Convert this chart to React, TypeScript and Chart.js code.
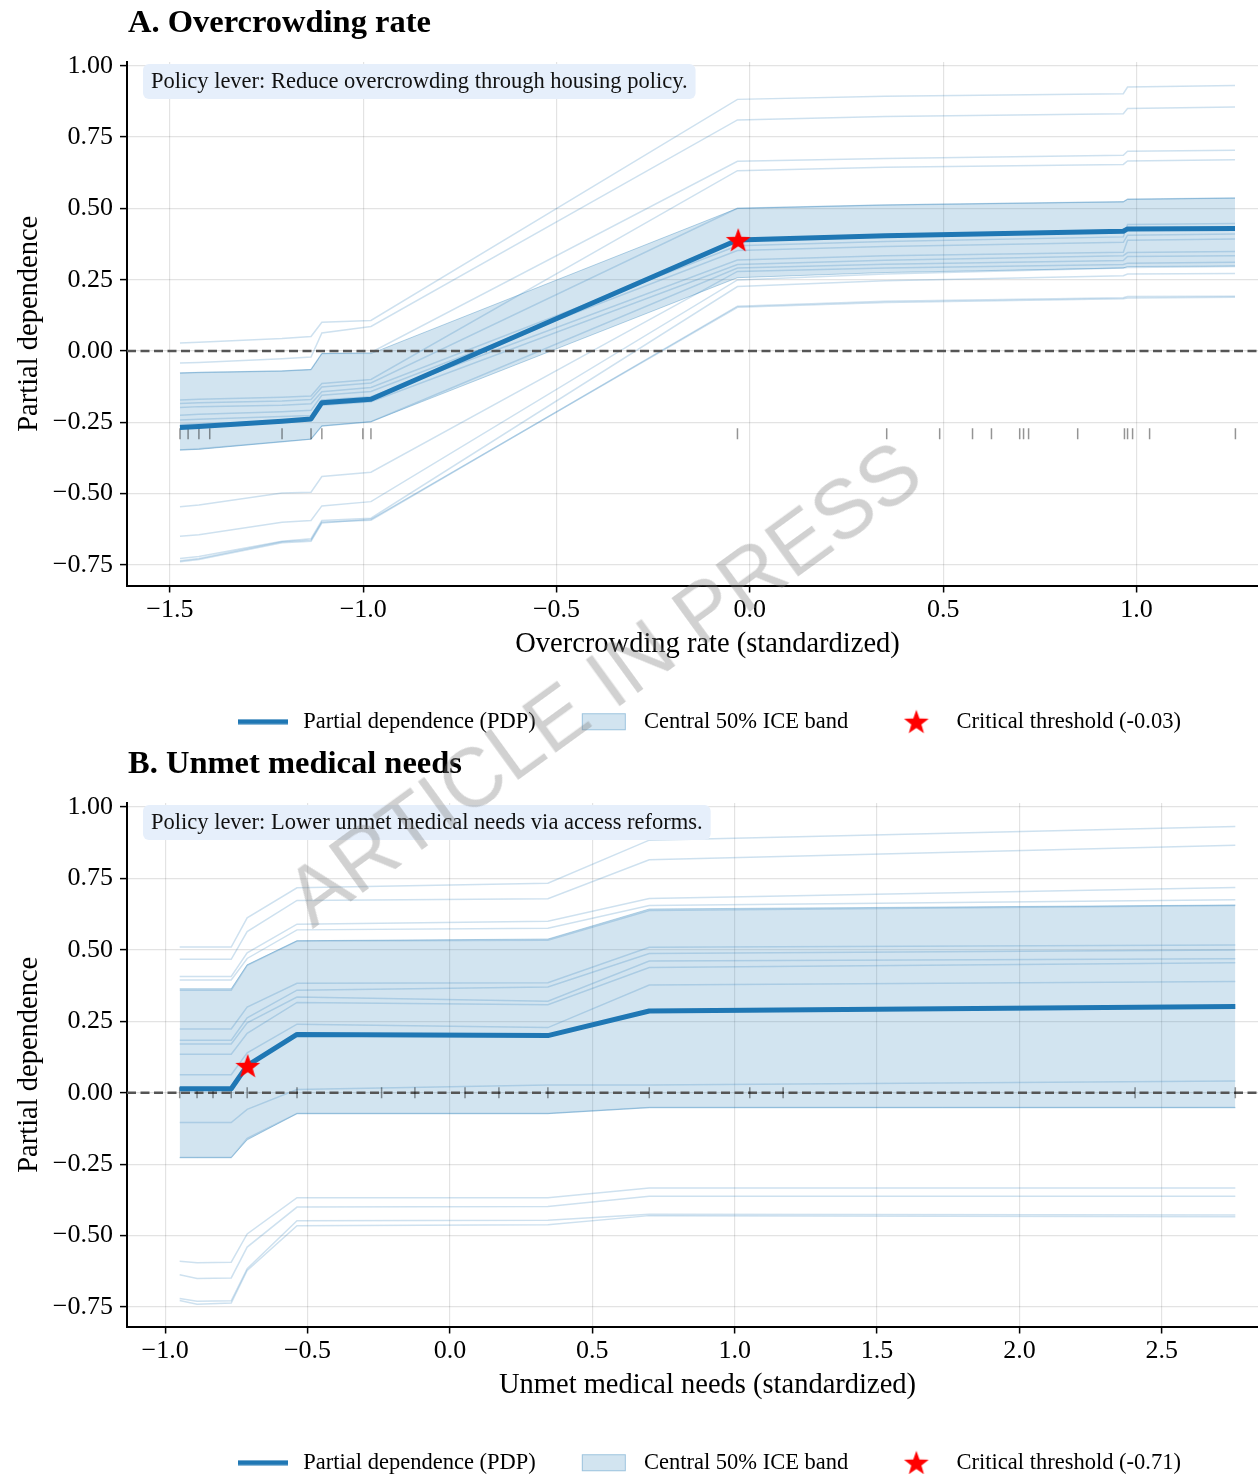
import React, { useEffect, useRef } from "react";
import { Chart, registerables } from "chart.js";
Chart.register(...registerables);

const FONT = "'Liberation Serif', 'Times New Roman', Times, serif";
const BLUE = "#1f77b4";
const ICE_COLOR = "rgba(31,119,180,0.22)";
const BAND_FILL = "rgba(31,119,180,0.2)";
const BAND_EDGE = "rgba(31,119,180,0.3)";

const Y_TICKS = [-0.75, -0.5, -0.25, 0, 0.25, 0.5, 0.75, 1.0];
const Y_LABEL = "Partial dependence";
const LEGEND_PDP = "Partial dependence (PDP)";
const LEGEND_BAND = "Central 50% ICE band";

// ---------------- Panel A: Overcrowding rate ----------------
const A_TITLE = "A. Overcrowding rate";
const A_NOTE = "Policy lever: Reduce overcrowding through housing policy.";
const A_XLABEL = "Overcrowding rate (standardized)";
const A_XLIM = [-1.611, 1.392];
const A_YLIM = [-0.822, 1.013];
const A_XTICKS = [-1.5, -1.0, -0.5, 0.0, 0.5, 1.0];
const A_GRID = [-1.474, -1.425, -1.21, -1.135, -1.107, -0.98, -0.032, 0.35, 0.966, 0.977, 1.255];
const A_PDP = [-0.268, -0.265, -0.246, -0.238, -0.181, -0.169, 0.389, 0.404, 0.42, 0.428, 0.429];
const A_BAND_HI = [-0.077, -0.075, -0.07, -0.065, -0.009, -0.009, 0.5, 0.512, 0.523, 0.532, 0.536];
const A_BAND_LO = [-0.347, -0.345, -0.318, -0.309, -0.263, -0.248, 0.257, 0.275, 0.291, 0.296, 0.298];
const A_ICE = [
  [0.028, 0.031, 0.044, 0.051, 0.101, 0.107, 0.882, 0.893, 0.902, 0.925, 0.931],
  [-0.042, -0.04, -0.027, -0.021, 0.063, 0.086, 0.81, 0.822, 0.832, 0.85, 0.855],
  [-0.077, -0.075, -0.07, -0.065, -0.009, -0.005, 0.665, 0.675, 0.686, 0.7, 0.704],
  [-0.172, -0.169, -0.162, -0.158, -0.114, -0.1, 0.632, 0.644, 0.654, 0.666, 0.67],
  [-0.184, -0.181, -0.175, -0.17, -0.126, -0.112, 0.5, 0.512, 0.523, 0.532, 0.536],
  [-0.198, -0.195, -0.19, -0.185, -0.143, -0.128, 0.369, 0.384, 0.4, 0.443, 0.447],
  [-0.225, -0.222, -0.213, -0.208, -0.155, -0.142, 0.352, 0.366, 0.381, 0.406, 0.41],
  [-0.242, -0.239, -0.23, -0.226, -0.172, -0.16, 0.319, 0.334, 0.346, 0.388, 0.393],
  [-0.258, -0.255, -0.247, -0.242, -0.19, -0.178, 0.303, 0.318, 0.334, 0.345, 0.349],
  [-0.347, -0.343, -0.318, -0.309, -0.263, -0.248, 0.291, 0.304, 0.317, 0.331, 0.334],
  [-0.546, -0.54, -0.498, -0.495, -0.44, -0.425, 0.279, 0.291, 0.303, 0.308, 0.311],
  [-0.649, -0.644, -0.6, -0.594, -0.543, -0.528, 0.249, 0.27, 0.291, 0.293, 0.296],
  [-0.727, -0.72, -0.667, -0.658, -0.594, -0.586, 0.226, 0.246, 0.264, 0.27, 0.272],
  [-0.739, -0.731, -0.672, -0.667, -0.603, -0.59, 0.153, 0.17, 0.183, 0.186, 0.188],
  [-0.735, -0.727, -0.669, -0.663, -0.599, -0.593, 0.157, 0.174, 0.187, 0.191, 0.192],
];
const A_RUG = [-1.474, -1.453, -1.425, -1.397, -1.21, -1.135, -1.107, -1.001, -0.98, -0.032, 0.354, 0.491, 0.576, 0.625, 0.698, 0.708, 0.721, 0.848, 0.969, 0.977, 0.99, 1.034, 1.256];
const A_RUG_Y = -0.29;
const A_THRESHOLD = -0.03;
const A_THRESHOLD_PD = 0.389;
const A_LEGEND_STAR = "Critical threshold (-0.03)";

// ---------------- Panel B: Unmet medical needs ----------------
const B_TITLE = "B. Unmet medical needs";
const B_NOTE = "Policy lever: Lower unmet medical needs via access reforms.";
const B_XLABEL = "Unmet medical needs (standardized)";
const B_XLIM = [-1.134, 2.943];
const B_YLIM = [-0.818, 1.014];
const B_XTICKS = [-1.0, -0.5, 0.0, 0.5, 1.0, 1.5, 2.0, 2.5];
const B_GRID = [-0.949, -0.888, -0.768, -0.712, -0.537, 0.344, 0.7, 2.758];
const B_PDP = [0.014, 0.014, 0.014, 0.095, 0.204, 0.2, 0.286, 0.302];
const B_BAND_HI = [0.364, 0.364, 0.364, 0.448, 0.532, 0.538, 0.643, 0.657];
const B_BAND_LO = [-0.227, -0.227, -0.227, -0.165, -0.073, -0.073, -0.052, -0.052];
const B_ICE = [
  [0.51, 0.51, 0.51, 0.612, 0.717, 0.733, 0.884, 0.932],
  [0.467, 0.467, 0.467, 0.564, 0.673, 0.679, 0.815, 0.866],
  [0.407, 0.407, 0.407, 0.49, 0.59, 0.6, 0.68, 0.718],
  [0.395, 0.395, 0.395, 0.47, 0.57, 0.576, 0.655, 0.675],
  [0.359, 0.359, 0.359, 0.446, 0.531, 0.534, 0.638, 0.655],
  [0.223, 0.223, 0.223, 0.3, 0.383, 0.385, 0.509, 0.517],
  [0.184, 0.184, 0.184, 0.262, 0.359, 0.37, 0.487, 0.5],
  [0.171, 0.171, 0.171, 0.245, 0.335, 0.32, 0.461, 0.469],
  [0.135, 0.135, 0.135, 0.208, 0.316, 0.308, 0.438, 0.455],
  [0.063, 0.063, 0.063, 0.14, 0.24, 0.228, 0.377, 0.389],
  [-0.104, -0.104, -0.104, -0.058, 0.011, 0.027, 0.027, 0.041],
  [-0.227, -0.227, -0.227, -0.16, -0.073, -0.073, -0.052, -0.052],
  [-0.59, -0.595, -0.593, -0.494, -0.367, -0.367, -0.333, -0.333],
  [-0.637, -0.65, -0.648, -0.54, -0.4, -0.398, -0.362, -0.362],
  [-0.72, -0.73, -0.728, -0.616, -0.448, -0.446, -0.425, -0.428],
  [-0.727, -0.74, -0.736, -0.622, -0.465, -0.462, -0.43, -0.434],
];
const B_RUG = [-0.949, -0.888, -0.832, -0.768, -0.712, -0.537, -0.24, -0.123, 0.053, 0.172, 0.344, 0.7, 1.053, 1.17, 2.406, 2.758];
const B_RUG_Y = 0.0;
const B_THRESHOLD = -0.71;
const B_THRESHOLD_PD = 0.094;
const B_LEGEND_STAR = "Critical threshold (-0.71)";

// ---------------- helpers ----------------
const fmt = (v: number, d: number) => (v < -1e-9 ? "\u2212" : "") + Math.abs(v).toFixed(d);
const zip = (xs: number[], ys: number[]) => xs.map((x, i) => ({ x, y: ys[i] }));

function makeStar(size: number, outer: number, inner: number) {
  const c = document.createElement("canvas");
  c.width = size;
  c.height = size;
  const g = c.getContext("2d")!;
  const cx = size / 2, cy = size / 2 + 1;
  g.beginPath();
  for (let i = 0; i < 10; i++) {
    const r = i % 2 === 0 ? outer : inner;
    const a = -Math.PI / 2 + (i * Math.PI) / 5;
    const px = cx + r * Math.cos(a), py = cy + r * Math.sin(a);
    if (i === 0) g.moveTo(px, py); else g.lineTo(px, py);
  }
  g.closePath();
  g.fillStyle = "#ff0000";
  g.fill();
  return c;
}
function makeLineSwatch() {
  const c = document.createElement("canvas");
  c.width = 50; c.height = 6;
  const g = c.getContext("2d")!;
  g.fillStyle = BLUE;
  g.fillRect(0, 0.5, 50, 5);
  return c;
}
function makeBandSwatch() {
  const c = document.createElement("canvas");
  c.width = 46; c.height = 19;
  const g = c.getContext("2d")!;
  g.fillStyle = BAND_FILL;
  g.fillRect(1, 1, 44, 17);
  g.strokeStyle = BAND_EDGE;
  g.lineWidth = 1;
  g.strokeRect(1.5, 1.5, 43, 16);
  return c;
}

type PanelCfg = {
  title: string; note: string; xlabel: string;
  xlim: number[]; ylim: number[]; xticks: number[];
  grid: number[]; pdp: number[]; hi: number[]; lo: number[]; ice: number[][];
  rug: number[]; rugY: number; thr: number; thrPd: number; starLabel: string;
};

function annotPlugin(title: string, note: string) {
  return {
    id: "annot",
    afterDatasetsDraw(chart: any) {
      const { ctx, chartArea } = chart;
      ctx.save();
      ctx.fillStyle = "#000";
      ctx.font = `bold 32.5px ${FONT}`;
      ctx.textBaseline = "alphabetic";
      ctx.textAlign = "left";
      ctx.fillText(title, chartArea.left + 1, 32);
      ctx.font = `22.5px ${FONT}`;
      const w = ctx.measureText(note).width;
      const bx = chartArea.left + 16, by = chartArea.top + 2, bw = w + 16, bh = 35;
      ctx.beginPath();
      if (ctx.roundRect) ctx.roundRect(bx, by, bw, bh, 6); else ctx.rect(bx, by, bw, bh);
      ctx.fillStyle = "#e6effb";
      ctx.fill();
      ctx.fillStyle = "#111";
      ctx.textBaseline = "middle";
      ctx.fillText(note, bx + 8, by + bh / 2 + 1);
      ctx.restore();
    },
  };
}

function makeConfig(p: PanelCfg): any {
  const star = makeStar(28, 13, 5.3);
  const legendStar = makeStar(28, 13, 5.3);
  const lineSw = makeLineSwatch();
  const bandSw = makeBandSwatch();
  const datasets: any[] = [
    {
      label: "threshold", data: [{ x: p.thr, y: p.thrPd }], showLine: false,
      pointStyle: star, pointRadius: 12, pointHoverRadius: 12,
    },
    {
      label: "pdp", data: zip(p.grid, p.pdp), borderColor: BLUE, borderWidth: 5,
      pointRadius: 0, tension: 0, borderJoinStyle: "round",
    },
    {
      label: "rug", data: p.rug.map((x) => ({ x, y: p.rugY })), showLine: false,
      pointStyle: "line", pointRotation: 90, pointRadius: 5.5,
      pointBorderColor: "rgba(0,0,0,0.42)", pointBorderWidth: 1.5, pointBackgroundColor: "rgba(0,0,0,0)",
    },
    {
      label: "zero", data: [{ x: p.xlim[0], y: 0 }, { x: p.xlim[1], y: 0 }],
      borderColor: "#555", borderWidth: 2.4, borderDash: [9, 4.5], pointRadius: 0,
    },
    {
      label: "bandHi", data: zip(p.grid, p.hi), borderColor: BAND_EDGE, borderWidth: 1,
      backgroundColor: BAND_FILL, fill: "+1", pointRadius: 0,
    },
    {
      label: "bandLo", data: zip(p.grid, p.lo), borderColor: BAND_EDGE, borderWidth: 1,
      fill: false, pointRadius: 0,
    },
    ...p.ice.map((row, i) => ({
      label: "ice" + i, data: zip(p.grid, row), borderColor: ICE_COLOR, borderWidth: 1.5,
      pointRadius: 0, fill: false,
    })),
  ];
  return {
    type: "line",
    data: { datasets },
    plugins: [annotPlugin(p.title, p.note)],
    options: {
      animation: false,
      responsive: false,
      devicePixelRatio: 1,
      events: [],
      layout: { autoPadding: false, padding: { top: 62, left: 0, right: 0, bottom: 0 } },
      scales: {
        x: {
          type: "linear", min: p.xlim[0], max: p.xlim[1],
          afterBuildTicks: (s: any) => { s.ticks = p.xticks.map((v) => ({ value: v })); },
          afterFit: (s: any) => { s.height = 86; },
          ticks: {
            callback: (v: any) => fmt(Number(v), 1), color: "#000", padding: 2,
            font: { family: FONT, size: 26 }, maxRotation: 0, autoSkip: false,
          },
          grid: { color: "rgba(0,0,0,0.11)", lineWidth: 1.2, tickColor: "#000", tickLength: 7, tickWidth: 1.5 },
          border: { color: "#000", width: 2 },
          title: {
            display: true, text: p.xlabel, color: "#000",
            font: { family: FONT, size: 28.5 }, padding: { top: 0, bottom: 10 },
          },
        },
        y: {
          type: "linear", min: p.ylim[0], max: p.ylim[1],
          afterBuildTicks: (s: any) => { s.ticks = Y_TICKS.map((v) => ({ value: v })); },
          afterFit: (s: any) => { s.width = 127; },
          ticks: {
            callback: (v: any) => fmt(Number(v), 2), color: "#000", padding: 7,
            font: { family: FONT, size: 26 }, autoSkip: false,
          },
          grid: { color: "rgba(0,0,0,0.11)", lineWidth: 1.2, tickColor: "#000", tickLength: 7, tickWidth: 1.5 },
          border: { color: "#000", width: 2 },
          title: {
            display: true, text: Y_LABEL, color: "#000",
            font: { family: FONT, size: 28.5 }, padding: { top: 12, bottom: 0 },
          },
        },
      },
      plugins: {
        tooltip: { enabled: false },
        title: { display: false },
        legend: {
          display: true, position: "bottom", fullSize: false,
          labels: {
            usePointStyle: true, pointStyleWidth: 58, padding: 39, color: "#000",
            font: { family: FONT, size: 22.5 },
            generateLabels: () => [
              { text: LEGEND_PDP, pointStyle: lineSw, fillStyle: BLUE, strokeStyle: BLUE, lineWidth: 0, hidden: false, fontColor: "#000", rotation: 0 },
              { text: LEGEND_BAND, pointStyle: bandSw, fillStyle: BAND_FILL, strokeStyle: BAND_EDGE, lineWidth: 0, hidden: false, fontColor: "#000", rotation: 0 },
              { text: p.starLabel, pointStyle: legendStar, fillStyle: "#f00", strokeStyle: "#f00", lineWidth: 0, hidden: false, fontColor: "#000", rotation: 0 },
            ],
          },
        },
      },
    },
  };
}

const PANEL_A: PanelCfg = {
  title: A_TITLE, note: A_NOTE, xlabel: A_XLABEL, xlim: A_XLIM, ylim: A_YLIM, xticks: A_XTICKS,
  grid: A_GRID, pdp: A_PDP, hi: A_BAND_HI, lo: A_BAND_LO, ice: A_ICE,
  rug: A_RUG, rugY: A_RUG_Y, thr: A_THRESHOLD, thrPd: A_THRESHOLD_PD, starLabel: A_LEGEND_STAR,
};
const PANEL_B: PanelCfg = {
  title: B_TITLE, note: B_NOTE, xlabel: B_XLABEL, xlim: B_XLIM, ylim: B_YLIM, xticks: B_XTICKS,
  grid: B_GRID, pdp: B_PDP, hi: B_BAND_HI, lo: B_BAND_LO, ice: B_ICE,
  rug: B_RUG, rugY: B_RUG_Y, thr: B_THRESHOLD, thrPd: B_THRESHOLD_PD, starLabel: B_LEGEND_STAR,
};

function Panel({ cfg, top }: { cfg: PanelCfg; top: number }) {
  const ref = useRef<HTMLCanvasElement | null>(null);
  useEffect(() => {
    if (!ref.current) return;
    const chart = new Chart(ref.current, makeConfig(cfg));
    return () => chart.destroy();
  }, [cfg]);
  return (
    <canvas
      ref={ref}
      width={1288}
      height={743}
      style={{ position: "absolute", left: 0, top, display: "block", width: 1288, height: 743 }}
    />
  );
}

export default function App() {
  return (
    <div
      style={{
        position: "absolute", left: 0, top: 0, width: 1258, height: 1474,
        overflow: "hidden", background: "#fff",
      }}
    >
      <Panel cfg={PANEL_A} top={0} />
      <Panel cfg={PANEL_B} top={741} />
      <div
        style={{
          position: "absolute", left: 603, top: 683,
          transform: "translate(-50%, -50%) rotate(-36deg)",
          fontFamily: "'Liberation Sans', Arial, sans-serif", fontSize: 83, lineHeight: 1,
          color: "rgba(128,128,128,0.36)", whiteSpace: "nowrap", pointerEvents: "none",
        }}
      >
        ARTICLE IN PRESS
      </div>
    </div>
  );
}
